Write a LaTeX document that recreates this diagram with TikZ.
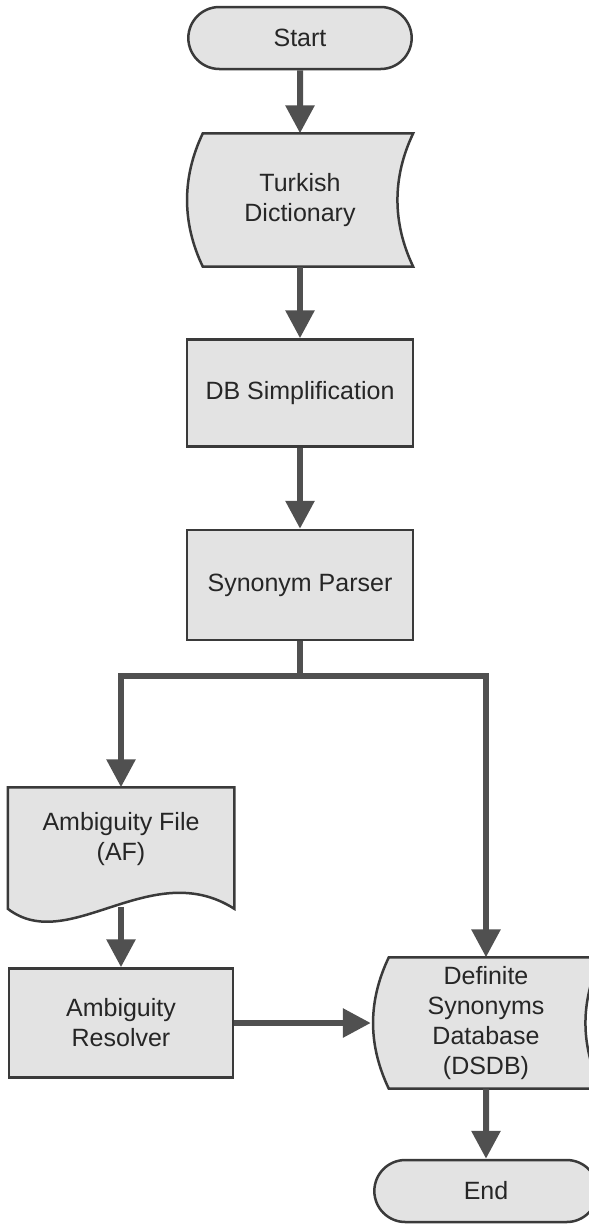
\documentclass[tikz,border=0pt]{standalone}
\usepackage{fontspec}
\usepackage{tikz}
\usetikzlibrary{arrows.meta, positioning, calc, shapes.misc, backgrounds}

\newfontfamily\labelfont{Liberation Sans}
\definecolor{boxfill}{HTML}{E3E3E3}
\definecolor{boxline}{HTML}{3A3A3A}
\definecolor{flowline}{HTML}{505050}

% outline of a stored data box (left side bulges out, right side bends in)
\newcommand{\storedoutline}[2]{%
  \path[shapeline] ($(#1.north west)+(#2,0)$) -- (#1.north east)
    .. controls +(-21,-44) and +(-21,44) .. (#1.south east)
    -- ($(#1.south west)+(#2,0)$)
    .. controls +(-21,44) and +(-21,-44) .. ($(#1.north west)+(#2,0)$) -- cycle;}
% outline of a document box with a wavy bottom
\newcommand{\docoutline}[1]{%
  \path[shapeline] ($(#1.south west)+(0,-18)$) -- (#1.north west) -- (#1.north east)
    -- ($(#1.south east)+(0,-18)$)
    .. controls +(-83,53) and +(61,-47) .. ($(#1.south west)+(0,-18)$) -- cycle;}

\begin{document}
\begin{tikzpicture}[x=1pt,y=1pt,on grid,>={Triangle[length=28pt,width=28pt]},
        every node/.style={font=\labelfont\fontsize{25}{30}\selectfont,text=black!85,align=center},
        termbox/.style={rounded rectangle,draw=boxline,fill=boxfill,line width=2.5pt,
            minimum width=230pt,minimum height=62pt},
        procbox/.style={rectangle,draw=boxline,fill=boxfill,line width=2.5pt,
            minimum width=226pt,minimum height=107pt},
        storebox/.style={minimum width=226pt,minimum height=133pt,inner sep=0pt},
        shapeline/.style={draw=boxline,fill=boxfill,line width=2.5pt},
        flow/.style={->,draw=flowline,line width=6pt}]

    \useasboundingbox (0,0) rectangle (589,-1224);
    \clip (0,0) rectangle (589,-1224);

    \node[termbox]  (start)  at (300,-38)            {Start};
    \node[storebox] (dict)   [below=162pt of start]  {Turkish\\Dictionary};
    \node[procbox]  (simp)   [below=193pt of dict]   {DB Simplification};
    \node[procbox]  (parser) [below=192pt of simp, minimum height=110pt] {Synonym Parser};
    \node[procbox]  (af)     [below left=254pt and 179pt of parser, minimum width=224pt,
                              minimum height=101pt, fill=none, draw=none] {Ambiguity File\\(AF)};
    \node[procbox]  (res)    [below=184pt of af, minimum width=224pt, minimum height=109pt]
                             {Ambiguity\\Resolver};
    \node[storebox] (dsdb)   [right=365pt of res, minimum width=230pt, minimum height=131pt]
                             {Definite\\Synonyms\\Database\\(DSDB)};
    \node[termbox]  (end)    [below=168pt of dsdb]   {End};

    \begin{pgfonlayer}{background}
      \storedoutline{dict}{16}
      \storedoutline{dsdb}{18}
      \docoutline{af}
    \end{pgfonlayer}

    \coordinate (split)  at ($(parser.south)+(0,-35)$);
    \coordinate (afwave) at ($(af.south)+(0,-16)$);

    \draw[flow] (start) -- (dict);
    \draw[flow] (dict) -- (simp);
    \draw[flow] (simp) -- (parser);
    \draw[flow] (parser.south) -- (split) -| (af.north);
    \draw[flow] (split) -| (dsdb.north);
    \draw[flow] (afwave) -- (res.north);
    \draw[flow] (res.east) -- (dsdb.west);
    \draw[flow] (dsdb) -- (end);
\end{tikzpicture}
\end{document}
